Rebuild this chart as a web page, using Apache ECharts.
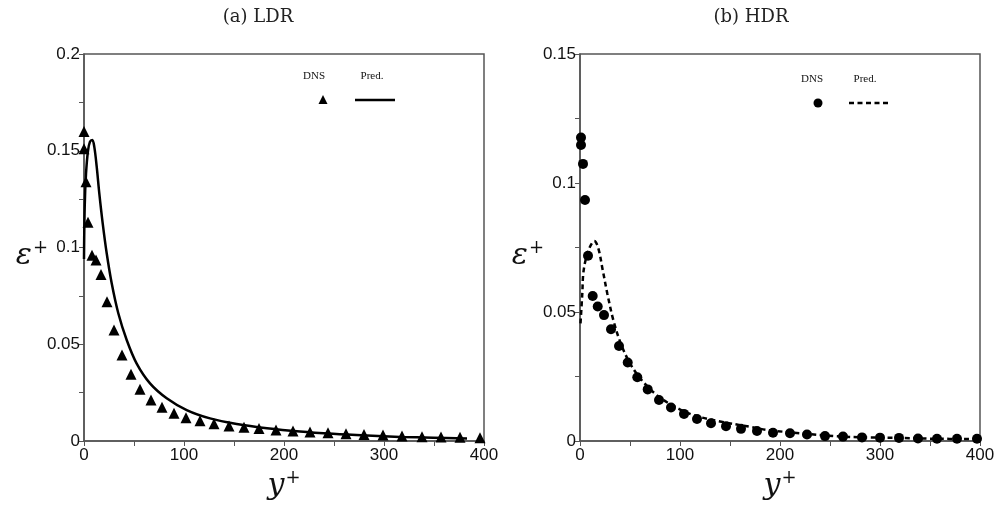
<!DOCTYPE html>
<html>
<head>
<meta charset="utf-8">
<title>LDR / HDR</title>
<script src="https://cdn.jsdelivr.net/npm/echarts@6/dist/echarts.min.js"></script>
<style>
    html, body { margin: 0; padding: 0; background: #fff; }
    #main { width: 998px; height: 506px; }
</style>
</head>
<body>
<div id="main"></div>
<script>
// (a) LDR
var ldrDnsX = [0, 0, 2, 4, 8, 12, 17, 23, 30, 38, 47, 56, 67, 78, 90, 102, 116, 130, 145, 160, 175, 192, 209, 226, 244, 262, 280, 299, 318, 338, 357, 376, 396];
var ldrDnsY = [0.160, 0.151, 0.134, 0.113, 0.096, 0.0935, 0.086, 0.072, 0.0574, 0.0444, 0.0345, 0.0267, 0.0212, 0.0174, 0.0143, 0.012, 0.0105, 0.0089, 0.0078, 0.0071, 0.0065, 0.0057, 0.0052, 0.0047, 0.0043, 0.0037, 0.0033, 0.0031, 0.0026, 0.0022, 0.0021, 0.0019, 0.0017];
var ldrPredX = [0, 0.7, 2, 4, 6, 8.3, 10.3, 12.7, 15.3, 18.7, 22.7, 27.7, 34.3, 42.7, 52.7, 66, 82.7, 102.7, 126, 152.7, 183, 216, 249, 283, 316, 349, 383];
var ldrPredY = [0.094, 0.121, 0.138, 0.150, 0.1547, 0.1556, 0.152, 0.1418, 0.128, 0.1125, 0.097, 0.0815, 0.066, 0.0522, 0.040, 0.0298, 0.0221, 0.016, 0.0117, 0.0088, 0.0066, 0.0049, 0.0037, 0.0028, 0.0021, 0.0017, 0.0013];

// (b) HDR
var hdrDnsX = [1, 1, 3, 5, 8, 12.7, 17.7, 24, 31, 39, 47.7, 57.3, 67.7, 79, 91, 104, 117, 131, 146, 161, 177, 193, 210, 227, 245, 263, 282, 300, 319, 338, 357, 377, 397];
var hdrDnsY = [0.1176, 0.1147, 0.1074, 0.0934, 0.0718, 0.0562, 0.0521, 0.0488, 0.0433, 0.0368, 0.0304, 0.0247, 0.020, 0.0159, 0.0130, 0.0105, 0.0085, 0.0069, 0.0057, 0.0047, 0.0039, 0.0032, 0.0030, 0.0025, 0.0019, 0.0017, 0.0014, 0.0013, 0.0012, 0.0010, 0.0009, 0.0009, 0.0009];
var hdrPredX = [0.5, 2.3, 3.3, 6, 10, 14.3, 18.3, 22.7, 27.3, 33.3, 40.7, 50, 61.7, 76.7, 93.3, 113, 137, 170, 187, 220, 253, 287, 320, 353, 387, 400];
var hdrPredY = [0.0456, 0.0572, 0.065, 0.0708, 0.0753, 0.0775, 0.0747, 0.0663, 0.0572, 0.0469, 0.0379, 0.0301, 0.0236, 0.0178, 0.0136, 0.0101, 0.0078, 0.0055, 0.0043, 0.0030, 0.0019, 0.0014, 0.0012, 0.0009, 0.0008, 0.0008];

var xTickLabels = ['0', '100', '200', '300', '400'];
var ldrYTickLabels = ['0', '0.05', '0.1', '0.15', '0.2'];
var hdrYTickLabels = ['0', '0.05', '0.1', '0.15'];

function pairs(xs, ys) {
    return xs.map(function (x, i) { return [x, ys[i]]; });
}

var axisColor = '#555';
var labelFont = { color: '#111', fontSize: 17, fontFamily: "'Liberation Sans', Arial, sans-serif" };
var nameRich = {
    i: { fontFamily: "'DejaVu Serif'", fontStyle: 'italic', fontSize: 30, color: '#111' },
    s: { fontFamily: "'DejaVu Serif'", fontSize: 18, color: '#111', verticalAlign: 'top', padding: [0, 0, 16, 1] }
};

function xAxisFor(idx) {
    return {
        type: 'value', gridIndex: idx, min: 0, max: 400, interval: 50,
        name: '{i|y}{s|+}', nameLocation: 'middle', nameGap: 28, nameMoveOverlap: false,
        nameTextStyle: { rich: nameRich },
        axisLine: { show: true, lineStyle: { color: axisColor, width: 1.5 } },
        axisTick: { show: true, length: 5, lineStyle: { color: axisColor } },
        axisLabel: Object.assign({
            margin: 6,
            formatter: function (v) {
                var k = xTickLabels.indexOf(String(v));
                return k >= 0 ? xTickLabels[k] : '';
            }
        }, labelFont),
        splitLine: { show: false }
    };
}

function yAxisFor(idx, max, labels) {
    return {
        type: 'value', gridIndex: idx, min: 0, max: max, interval: 0.025,
        name: '{i|ε}{s|+}', nameLocation: 'middle', nameRotate: 0, nameGap: 36, nameMoveOverlap: false,
        nameTextStyle: { rich: nameRich, padding: [18, 0, 0, 0] },
        axisLine: { show: true, lineStyle: { color: axisColor, width: 1.5 } },
        axisTick: { show: true, length: 5, lineStyle: { color: axisColor } },
        axisLabel: Object.assign({
            margin: 4,
            formatter: function (v) {
                var s = String(Math.round(v * 1000) / 1000);
                return labels.indexOf(s) >= 0 ? s : '';
            }
        }, labelFont),
        splitLine: { show: false }
    };
}

var myChart = echarts.init(document.getElementById('main'), null, { renderer: 'canvas' });

var legendText = { fontFamily: "'Liberation Serif'", fontSize: 11, fill: '#111', textAlign: 'center', textVerticalAlign: 'middle' };
var titleStyle = { fontFamily: "'DejaVu Serif'", fontSize: 18, fontWeight: 'normal', color: '#222' };

var option = {
    backgroundColor: '#fff',
    animation: false,
    title: [
        { text: '(a) LDR', left: 253, top: 3, textAlign: 'center', textStyle: titleStyle },
        { text: '(b) HDR', left: 746, top: 3, textAlign: 'center', textStyle: titleStyle }
    ],
    grid: [
        { left: 84, top: 54, width: 400, height: 387, show: true, borderColor: axisColor, borderWidth: 1.5 },
        { left: 580, top: 54, width: 400, height: 387, show: true, borderColor: axisColor, borderWidth: 1.5 }
    ],
    xAxis: [xAxisFor(0), xAxisFor(1)],
    yAxis: [yAxisFor(0, 0.2, ldrYTickLabels), yAxisFor(1, 0.15, hdrYTickLabels)],
    // legend drawn by hand: labels sit above the symbols
    graphic: [
        { type: 'text', x: 314, y: 76, style: Object.assign({ text: 'DNS' }, legendText) },
        { type: 'text', x: 372, y: 76, style: Object.assign({ text: 'Pred.' }, legendText) },
        { type: 'polygon', shape: { points: [[323, 95], [327.5, 104], [318.5, 104]] }, style: { fill: '#000' } },
        { type: 'line', shape: { x1: 355, y1: 100, x2: 395, y2: 100 }, style: { stroke: '#000', lineWidth: 2.5 } },
        { type: 'text', x: 812, y: 79, style: Object.assign({ text: 'DNS' }, legendText) },
        { type: 'text', x: 865, y: 79, style: Object.assign({ text: 'Pred.' }, legendText) },
        { type: 'circle', shape: { cx: 818, cy: 103, r: 4.5 }, style: { fill: '#000' } },
        { type: 'line', shape: { x1: 849, y1: 103, x2: 889, y2: 103 }, style: { stroke: '#000', lineWidth: 2.5, lineDash: [5, 3.5] } }
    ],
    series: [
        {
            name: 'Pred. LDR', type: 'line', xAxisIndex: 0, yAxisIndex: 0,
            data: pairs(ldrPredX, ldrPredY), showSymbol: false, smooth: 0.35,
            lineStyle: { color: '#000', width: 2.5 }
        },
        {
            name: 'DNS LDR', type: 'scatter', xAxisIndex: 0, yAxisIndex: 0,
            data: pairs(ldrDnsX, ldrDnsY), symbol: 'triangle', symbolSize: 11,
            itemStyle: { color: '#000', opacity: 1 }
        },
        {
            name: 'Pred. HDR', type: 'line', xAxisIndex: 1, yAxisIndex: 1,
            data: pairs(hdrPredX, hdrPredY), showSymbol: false, smooth: 0.35,
            lineStyle: { color: '#000', width: 2.5, type: [5, 3.5] }
        },
        {
            name: 'DNS HDR', type: 'scatter', xAxisIndex: 1, yAxisIndex: 1,
            data: pairs(hdrDnsX, hdrDnsY), symbol: 'circle', symbolSize: 10,
            itemStyle: { color: '#000', opacity: 1 }
        }
    ]
};

myChart.setOption(option);
</script>
</body>
</html>
